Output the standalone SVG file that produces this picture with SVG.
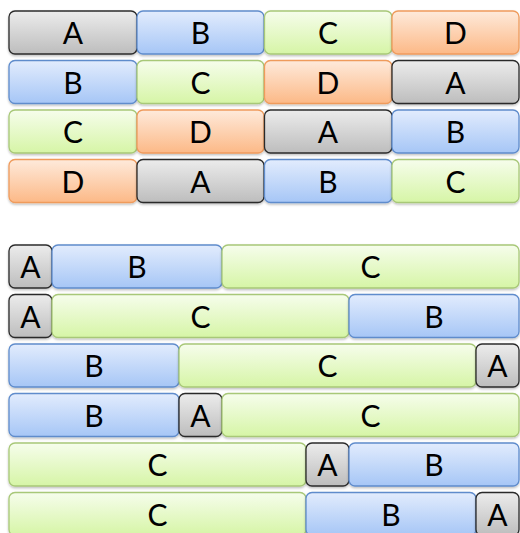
<svg xmlns="http://www.w3.org/2000/svg" width="520" height="533" viewBox="0 0 520 533">
<defs>
<linearGradient id="gA" x1="0" y1="0" x2="0" y2="1"><stop offset="0" stop-color="#ececec"/><stop offset="1" stop-color="#bdbdbd"/></linearGradient>
<linearGradient id="gB" x1="0" y1="0" x2="0" y2="1"><stop offset="0" stop-color="#e2ecfd"/><stop offset="1" stop-color="#a6c6f6"/></linearGradient>
<linearGradient id="gC" x1="0" y1="0" x2="0" y2="1"><stop offset="0" stop-color="#f6fdec"/><stop offset="1" stop-color="#d6f5a6"/></linearGradient>
<linearGradient id="gD" x1="0" y1="0" x2="0" y2="1"><stop offset="0" stop-color="#feeadb"/><stop offset="1" stop-color="#fcb987"/></linearGradient>
<filter id="sh" x="-5%" y="-10%" width="110%" height="130%"><feDropShadow dx="0" dy="1.5" stdDeviation="1" flood-color="#000" flood-opacity="0.25"/></filter>
</defs>
<style>
rect{filter:url(#sh);stroke-width:1.3}
.A rect{fill:url(#gA);stroke:#2b2b2b}
.B rect{fill:url(#gB);stroke:#5f8ccc}
.C rect{fill:url(#gC);stroke:#a8c878}
.D rect{fill:url(#gD);stroke:#ef9b5c}
text{font-family:Lato,"Noto Sans","Liberation Sans",sans-serif;font-size:30px;text-anchor:middle;fill:#000}
</style>
<g id="top">
<g id="t11" class="A"><rect x="9" y="11" width="128" height="43" rx="6"/><text x="73" y="44">A</text></g>
<g id="t12" class="B"><rect x="137" y="11" width="127" height="43" rx="6"/><text x="200.5" y="44">B</text></g>
<g id="t13" class="C"><rect x="264.5" y="11" width="127.5" height="43" rx="6"/><text x="328" y="44">C</text></g>
<g id="t14" class="D"><rect x="392" y="11" width="127" height="43" rx="6"/><text x="455.5" y="44">D</text></g>

<g id="t21" class="B"><rect x="9" y="60.5" width="128" height="43" rx="6"/><text x="73" y="93.5">B</text></g>
<g id="t22" class="C"><rect x="137" y="60.5" width="127" height="43" rx="6"/><text x="200.5" y="93.5">C</text></g>
<g id="t23" class="D"><rect x="264.5" y="60.5" width="127.5" height="43" rx="6"/><text x="328" y="93.5">D</text></g>
<g id="t24" class="A"><rect x="392" y="60.5" width="127" height="43" rx="6"/><text x="455.5" y="93.5">A</text></g>

<g id="t31" class="C"><rect x="9" y="110" width="128" height="43" rx="6"/><text x="73" y="143">C</text></g>
<g id="t32" class="D"><rect x="137" y="110" width="127" height="43" rx="6"/><text x="200.5" y="143">D</text></g>
<g id="t33" class="A"><rect x="264.5" y="110" width="127.5" height="43" rx="6"/><text x="328" y="143">A</text></g>
<g id="t34" class="B"><rect x="392" y="110" width="127" height="43" rx="6"/><text x="455.5" y="143">B</text></g>

<g id="t41" class="D"><rect x="9" y="159.5" width="128" height="43" rx="6"/><text x="73" y="192.5">D</text></g>
<g id="t42" class="A"><rect x="137" y="159.5" width="127" height="43" rx="6"/><text x="200.5" y="192.5">A</text></g>
<g id="t43" class="B"><rect x="264.5" y="159.5" width="127.5" height="43" rx="6"/><text x="328" y="192.5">B</text></g>
<g id="t44" class="C"><rect x="392" y="159.5" width="127" height="43" rx="6"/><text x="455.5" y="192.5">C</text></g>
</g>
<g id="bottom">
<g id="b11" class="A"><rect x="9" y="245" width="43" height="43" rx="6"/><text x="30.5" y="278">A</text></g>
<g id="b12" class="B"><rect x="52" y="245" width="170" height="43" rx="6"/><text x="137" y="278">B</text></g>
<g id="b13" class="C"><rect x="222" y="245" width="297" height="43" rx="6"/><text x="370.5" y="278">C</text></g>

<g id="b21" class="A"><rect x="9" y="294.5" width="43" height="43" rx="6"/><text x="30.5" y="327.5">A</text></g>
<g id="b22" class="C"><rect x="52" y="294.5" width="297" height="43" rx="6"/><text x="200.5" y="327.5">C</text></g>
<g id="b23" class="B"><rect x="349" y="294.5" width="170" height="43" rx="6"/><text x="434" y="327.5">B</text></g>

<g id="b31" class="B"><rect x="9" y="344" width="170" height="43" rx="6"/><text x="94" y="377">B</text></g>
<g id="b32" class="C"><rect x="179" y="344" width="297" height="43" rx="6"/><text x="327.5" y="377">C</text></g>
<g id="b33" class="A"><rect x="476" y="344" width="43" height="43" rx="6"/><text x="497.5" y="377">A</text></g>

<g id="b41" class="B"><rect x="9" y="393.5" width="170" height="43" rx="6"/><text x="94" y="426.5">B</text></g>
<g id="b42" class="A"><rect x="179" y="393.5" width="43" height="43" rx="6"/><text x="200.5" y="426.5">A</text></g>
<g id="b43" class="C"><rect x="222" y="393.5" width="297" height="43" rx="6"/><text x="370.5" y="426.5">C</text></g>

<g id="b51" class="C"><rect x="9" y="443" width="297" height="43" rx="6"/><text x="157.5" y="476">C</text></g>
<g id="b52" class="A"><rect x="306" y="443" width="43" height="43" rx="6"/><text x="327.5" y="476">A</text></g>
<g id="b53" class="B"><rect x="349" y="443" width="170" height="43" rx="6"/><text x="434" y="476">B</text></g>

<g id="b61" class="C"><rect x="9" y="492.5" width="297" height="43" rx="6"/><text x="157.5" y="525.5">C</text></g>
<g id="b62" class="B"><rect x="306" y="492.5" width="170" height="43" rx="6"/><text x="391" y="525.5">B</text></g>
<g id="b63" class="A"><rect x="476" y="492.5" width="43" height="43" rx="6"/><text x="497.5" y="525.5">A</text></g>
</g>
<g id="connectors"/>
</svg>
